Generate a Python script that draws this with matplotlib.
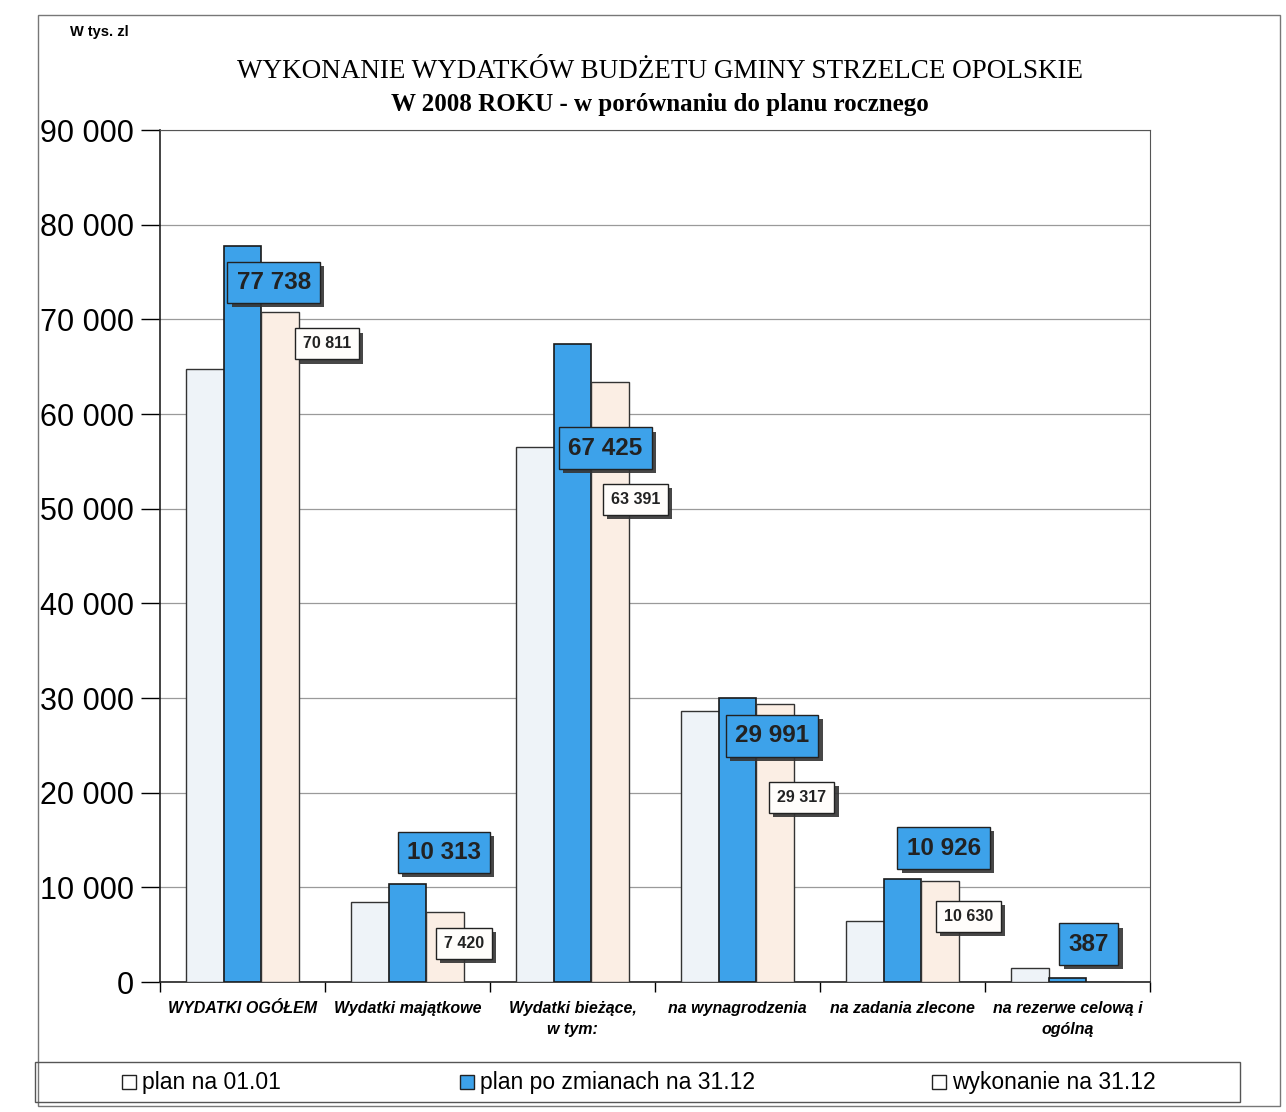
import matplotlib
matplotlib.use("Agg")
import matplotlib.pyplot as plt
import matplotlib.patheffects as pe
from matplotlib.patches import Rectangle
import numpy as np

categories = ["WYDATKI OGÓŁEM", "Wydatki majątkowe", "Wydatki bieżące,\nw tym:",
              "na wynagrodzenia", "na zadania zlecone", "na rezerwe celową i\nogólną"]
plan_0101 = [64800, 8400, 56500, 28600, 6400, 1500]
plan_zm = [77738, 10313, 67425, 29991, 10926, 387]
wykonanie = [70811, 7420, 63391, 29317, 10630, 0]
series_names = ["plan na 01.01", "plan po zmianach na 31.12", "wykonanie na 31.12"]
yticks = [0, 10000, 20000, 30000, 40000, 50000, 60000, 70000, 80000, 90000]
ytick_labels = ["0", "10 000", "20 000", "30 000", "40 000", "50 000", "60 000", "70 000", "80 000", "90 000"]

# label placement (dx in category units from category centre, y in data units)
blue_lab_pos = [(0.19, 73900), (0.22, 13700), (0.20, 56400), (0.21, 26000), (0.25, 14150), (0.13, 4000)]
peach_lab_pos = [(0.51, 67400), (0.34, 4100), (0.38, 51000), (0.39, 19500), (0.40, 6900), None]

c_plan = "#EEF3F8"
c_blue = "#3DA2EA"
c_peach = "#FBEEE4"

def fmt(v):
    return f"{v:,}".replace(",", " ")

fig = plt.figure(figsize=(12.86, 11.12), dpi=100)
fig.patch.set_facecolor("white")
W, H = 1286, 1112
ax = fig.add_axes([160 / W, 1 - 982 / H, 990 / W, (982 - 130) / H])

x = np.arange(len(categories))
bw = 0.23
ax.bar(x - bw, plan_0101, bw, color=c_plan, edgecolor="#333333", linewidth=1.0, zorder=3)
ax.bar(x, plan_zm, bw, color=c_blue, edgecolor="#1a1a1a", linewidth=1.2, zorder=3)
ax.bar(x + bw, wykonanie, bw, color=c_peach, edgecolor="#333333", linewidth=1.0, zorder=3)

ax.set_xlim(-0.5, len(categories) - 0.5)
ax.set_ylim(0, 90000)
ax.set_yticks(yticks)
ax.set_yticklabels(ytick_labels, fontsize=22, family="Liberation Sans")
ax.yaxis.grid(True, color="#9a9a9a", linewidth=0.9, zorder=0)
ax.set_axisbelow(True)
ax.tick_params(axis="y", length=14, width=1, direction="out", pad=5)
ax.set_xticks(np.arange(len(categories) + 1) - 0.5, minor=True)
ax.set_xticks(x)
ax.set_xticklabels(categories, fontsize=11.5, fontweight="bold", fontstyle="italic",
                   family="Liberation Sans", linespacing=1.5, va="top")
ax.tick_params(axis="x", which="major", length=0, pad=14)
ax.tick_params(axis="x", which="minor", length=7, width=1, direction="out")
for s in ["top", "right"]:
    ax.spines[s].set_color("#555555")
for s in ["left", "bottom"]:
    ax.spines[s].set_color("#222222")
    ax.spines[s].set_linewidth(1.2)

shadow = [pe.SimplePatchShadow(offset=(3, -3), shadow_rgbFace="#333333", alpha=0.9), pe.Normal()]
for i, v in enumerate(plan_zm):
    dx, yy = blue_lab_pos[i]
    t = ax.text(i + dx, yy, fmt(v), ha="center", va="center", fontsize=17.5, fontweight="bold",
                family="Liberation Sans", color="#222222", zorder=6,
                bbox=dict(boxstyle="square,pad=0.38", facecolor=c_blue, edgecolor="#222222", linewidth=1.0))
    t.get_bbox_patch().set_path_effects(shadow)
for i, v in enumerate(wykonanie):
    if peach_lab_pos[i] is None:
        continue
    dx, yy = peach_lab_pos[i]
    t = ax.text(i + dx, yy, fmt(v), ha="center", va="center", fontsize=11.5, fontweight="bold",
                family="Liberation Sans", color="#222222", zorder=6,
                bbox=dict(boxstyle="square,pad=0.5", facecolor="#FFFDFB", edgecolor="#222222", linewidth=1.0))
    t.get_bbox_patch().set_path_effects(shadow)

# titles
fig.text(660 / W, 1 - 72 / H, "WYKONANIE WYDATKÓW BUDŻETU GMINY STRZELCE OPOLSKIE",
         ha="center", va="center", fontsize=19.5, family="Liberation Serif")
fig.text(660 / W, 1 - 105 / H, "W 2008 ROKU - w porównaniu do planu rocznego",
         ha="center", va="center", fontsize=18, fontweight="bold", family="Liberation Serif")
fig.text(70 / W, 1 - 32 / H, "W tys. zl", ha="left", va="center", fontsize=10.5,
         fontweight="bold", family="Liberation Sans")

# outer frame and legend frame
fig.patches.append(Rectangle((38 / W, 0.005), (1280 - 38) / W, (1112 - 15) / H - 0.005,
                             transform=fig.transFigure, fill=False, edgecolor="#777777", linewidth=1.0))
fig.patches.append(Rectangle((35 / W, 1 - 1102 / H), (1240 - 35) / W, (1102 - 1062) / H,
                             transform=fig.transFigure, fill=False, edgecolor="#555555", linewidth=1.0))
leg_x = [122, 460, 932]
leg_cols = ["white", c_blue, "white"]
for lx, lc, name in zip(leg_x, leg_cols, series_names):
    fig.patches.append(Rectangle((lx / W, 1 - 1089 / H), 14 / W, 14 / H, transform=fig.transFigure,
                                 facecolor=lc, edgecolor="#222222", linewidth=1.0))
    fig.text((lx + 20) / W, 1 - 1082 / H, name, ha="left", va="center", fontsize=16.5,
             family="Liberation Sans")

fig.savefig("out.png", dpi=100, facecolor="white")
